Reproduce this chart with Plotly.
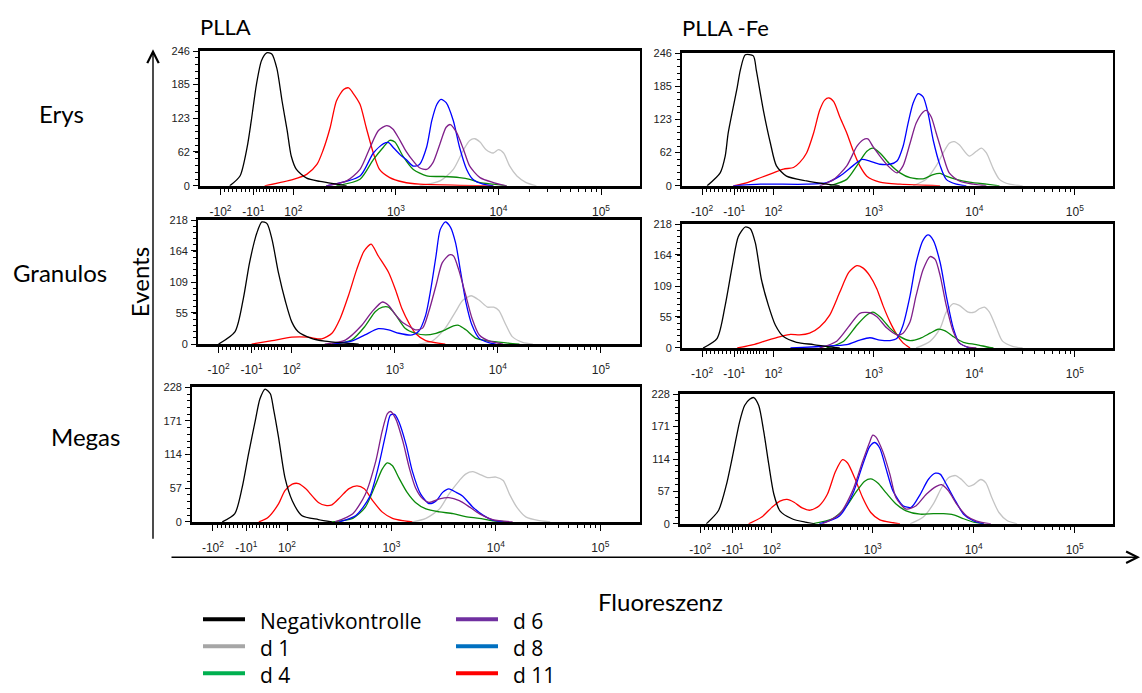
import numpy as np
import plotly.graph_objects as go

# ---------------- data (x in display decades of the biexponential axis, y = events) ----------------
# Erys / PLLA
erys_plla_neg_u = [1.38,1.48,1.55,1.59,1.64,1.69,1.74,1.79,1.84,1.89,1.94,1.98,2.03,2.13,2.26,2.42,2.52]
erys_plla_neg_y = [0,18,71,119,185,229,243,241,214,155,101,54,30,14,8,3,0]
erys_plla_d1_u = [3.23,3.43,3.56,3.66,3.72,3.77,3.82,3.88,3.95,4.00,4.05,4.11,4.18,4.27,4.37]
erys_plla_d1_y = [0,9,30,66,83,86,80,66,60,66,60,36,18,6,0]
erys_plla_d4_u = [2.42,2.65,2.78,2.88,2.94,2.99,3.07,3.17,3.30,3.46,3.62,3.72,3.82,3.95,4.08]
erys_plla_d4_y = [0,12,48,71,83,80,54,30,18,17,15,12,6,3,0]
erys_plla_d6_u = [2.32,2.52,2.65,2.75,2.83,2.91,2.97,3.04,3.10,3.17,3.23,3.30,3.36,3.43,3.49,3.53,3.59,3.66,3.72,3.82,3.95,4.08]
erys_plla_d6_y = [0,9,30,71,101,110,104,83,63,45,33,30,42,77,107,112,98,66,36,15,6,0]
erys_plla_d8_u = [2.32,2.65,2.78,2.88,2.93,2.97,3.04,3.10,3.17,3.23,3.30,3.35,3.40,3.44,3.49,3.56,3.62,3.69,3.75,3.85,3.95]
erys_plla_d8_y = [0,18,60,77,79,71,57,48,36,39,71,119,149,158,152,119,71,30,12,3,0]
erys_plla_d11_u = [1.72,2.00,2.13,2.23,2.29,2.36,2.42,2.49,2.54,2.58,2.65,2.71,2.78,2.84,2.94,3.07,3.23,3.62,3.95]
erys_plla_d11_y = [0,12,21,39,65,107,155,176,179,170,149,107,60,30,15,7,3,1,0]

# Erys / PLLA-Fe
erys_fe_neg_u = [1.34,1.47,1.52,1.55,1.64,1.67,1.72,1.80,1.83,1.90,1.97,2.03,2.13,2.33,2.53,2.66]
erys_fe_neg_y = [0,24,55,98,183,214,243,241,214,140,79,37,18,9,3,0]
erys_fe_d1_u = [3.39,3.52,3.62,3.69,3.75,3.80,3.85,3.95,4.02,4.07,4.12,4.19,4.25,4.35,4.48]
erys_fe_d1_y = [0,12,37,61,79,82,76,55,64,70,61,31,12,3,0]
erys_fe_d4_u = [2.56,2.73,2.83,2.93,2.99,3.06,3.16,3.26,3.36,3.49,3.59,3.66,3.72,3.82,3.95,4.12,4.25]
erys_fe_d4_y = [0,12,37,64,70,61,40,24,15,13,21,23,18,12,7,3,0]
erys_fe_d6_u = [2.46,2.60,2.73,2.83,2.89,2.94,2.99,3.06,3.14,3.23,3.29,3.36,3.42,3.49,3.52,3.57,3.62,3.69,3.75,3.85,3.99,4.12]
erys_fe_d6_y = [0,12,37,73,85,87,73,55,37,24,37,79,116,137,140,128,98,55,24,9,3,0]
erys_fe_d8_u = [1.60,1.87,2.33,2.53,2.66,2.79,2.88,2.96,3.06,3.16,3.23,3.29,3.34,3.39,3.44,3.49,3.54,3.59,3.66,3.72,3.82,3.92]
erys_fe_d8_y = [0,3,3,6,18,37,49,46,40,40,46,73,116,153,171,165,134,85,37,12,3,0]
erys_fe_d11_u = [1.60,1.74,1.87,2.00,2.10,2.20,2.26,2.33,2.40,2.46,2.51,2.55,2.60,2.66,2.73,2.79,2.86,2.93,3.06,3.26,3.66]
erys_fe_d11_y = [0,6,15,24,31,34,43,61,98,140,159,163,156,128,98,67,37,18,7,3,0]

# Granulos / PLLA
gran_plla_neg_u = [1.29,1.45,1.53,1.59,1.66,1.71,1.76,1.81,1.87,1.94,2.00,2.06,2.19,2.32,2.49,2.65]
gran_plla_neg_y = [0,22,80,143,195,215,212,183,126,74,39,22,10,5,2,0]
gran_plla_d1_u = [3.23,3.36,3.49,3.59,3.66,3.74,3.82,3.90,3.96,4.01,4.08,4.14,4.24,4.34]
gran_plla_d1_y = [0,5,28,57,77,85,77,65,65,59,33,13,3,0]
gran_plla_d4_u = [2.39,2.58,2.71,2.81,2.88,2.94,3.01,3.10,3.20,3.30,3.40,3.49,3.57,3.62,3.69,3.79,3.92,4.08,4.21]
gran_plla_d4_y = [0,7,31,57,65,65,51,28,19,16,19,25,32,33,25,10,5,2,0]
gran_plla_d6_u = [2.32,2.52,2.68,2.78,2.88,2.94,3.01,3.07,3.14,3.20,3.27,3.33,3.40,3.46,3.53,3.57,3.62,3.69,3.75,3.82,3.92,4.05]
gran_plla_d6_y = [0,7,33,57,74,68,51,39,31,25,28,57,103,143,157,155,131,85,45,16,5,0]
gran_plla_d8_u = [2.39,2.58,2.71,2.84,2.94,3.04,3.17,3.23,3.30,3.35,3.40,3.44,3.49,3.54,3.59,3.64,3.69,3.75,3.82,3.92,3.98]
gran_plla_d8_y = [0,5,16,27,25,19,16,22,51,97,155,201,215,206,178,126,74,33,10,2,0]
gran_plla_d11_u = [1.61,1.81,2.00,2.16,2.29,2.39,2.47,2.55,2.63,2.70,2.77,2.84,2.94,3.01,3.07,3.14,3.20,3.30,3.49]
gran_plla_d11_y = [0,6,12,12,9,19,45,85,131,163,176,155,126,94,62,36,19,6,0]

# Granulos / PLLA-Fe
gran_fe_neg_u = [1.30,1.44,1.52,1.59,1.65,1.72,1.77,1.82,1.88,1.95,2.02,2.10,2.23,2.40,2.60,2.66]
gran_fe_neg_y = [0,17,75,144,196,213,210,185,121,75,40,20,10,6,1,0]
gran_fe_d1_u = [3.42,3.56,3.66,3.72,3.79,3.85,3.94,4.00,4.05,4.10,4.15,4.22,4.28,4.38,4.48]
gran_fe_d1_y = [0,12,35,63,78,75,63,63,69,72,63,35,12,3,0]
gran_fe_d4_u = [2.53,2.70,2.83,2.93,2.99,3.06,3.16,3.26,3.36,3.46,3.56,3.64,3.71,3.79,3.89,4.02,4.15,4.19]
gran_fe_d4_y = [0,12,40,58,63,55,35,20,13,17,26,33,30,20,10,6,1,0]
gran_fe_d6_u = [2.46,2.63,2.76,2.86,2.96,3.03,3.13,3.23,3.29,3.36,3.42,3.49,3.56,3.61,3.66,3.72,3.79,3.85,3.95,4.02]
gran_fe_d6_y = [0,12,40,61,62,55,35,23,26,46,92,138,161,156,127,75,29,9,1,0]
gran_fe_d8_u = [2.17,2.50,2.73,2.86,2.96,3.06,3.16,3.23,3.29,3.36,3.42,3.49,3.54,3.59,3.66,3.72,3.79,3.85,3.95]
gran_fe_d8_y = [0,3,6,14,18,14,13,17,40,92,150,190,199,190,150,92,35,9,0]
gran_fe_d11_u = [1.64,1.80,1.93,2.07,2.17,2.26,2.36,2.46,2.56,2.66,2.75,2.83,2.89,2.96,3.03,3.09,3.16,3.23,3.29,3.36]
gran_fe_d11_y = [0,6,13,20,24,23,26,37,58,98,133,145,141,127,104,75,46,23,9,0]

# Megas / PLLA
meg_plla_neg_u = [1.38,1.50,1.57,1.63,1.70,1.74,1.79,1.84,1.87,1.92,1.98,2.05,2.14,2.30,2.43]
meg_plla_neg_y = [0,14,58,114,175,208,225,217,192,142,75,36,11,4,0]
meg_plla_d1_u = [3.20,3.33,3.46,3.55,3.65,3.71,3.78,3.84,3.92,4.00,4.07,4.13,4.20,4.29,4.42,4.52]
meg_plla_d1_y = [0,6,22,47,70,81,85,81,75,76,70,47,25,8,2,0]
meg_plla_d4_u = [2.43,2.63,2.75,2.85,2.91,2.96,3.01,3.07,3.15,3.23,3.33,3.46,3.59,3.71,3.84,3.97,4.10]
meg_plla_d4_y = [0,6,25,64,89,100,95,75,50,33,22,17,14,9,6,2,0]
meg_plla_d6_u = [2.46,2.63,2.75,2.85,2.91,2.96,2.99,3.04,3.11,3.17,3.23,3.30,3.36,3.46,3.55,3.65,3.75,3.84,3.97,4.16]
meg_plla_d6_y = [0,14,47,103,153,183,187,175,136,92,58,39,33,39,41,36,25,14,4,0]
meg_plla_d8_u = [2.50,2.66,2.79,2.88,2.95,2.99,3.03,3.07,3.14,3.20,3.28,3.36,3.43,3.49,3.55,3.62,3.68,3.78,3.88,3.97,4.07]
meg_plla_d8_y = [0,11,42,97,153,181,182,170,131,86,47,31,36,50,56,50,44,25,11,3,0]
meg_plla_d11_u = [1.73,1.82,1.92,1.98,2.05,2.11,2.18,2.24,2.30,2.37,2.43,2.51,2.59,2.67,2.74,2.82,2.91,3.01,3.11,3.20]
meg_plla_d11_y = [0,8,31,53,64,65,56,44,33,28,29,42,56,61,56,36,17,6,2,0]

# Megas / PLLA-Fe
meg_fe_neg_u = [1.35,1.47,1.55,1.62,1.68,1.73,1.78,1.82,1.87,1.92,1.97,2.02,2.08,2.20,2.33,2.43]
meg_fe_neg_y = [0,23,69,127,179,208,219,222,208,162,104,52,23,9,3,0]
meg_fe_d1_u = [3.37,3.50,3.60,3.68,3.75,3.82,3.88,3.95,4.00,4.07,4.12,4.18,4.25,4.33,4.43]
meg_fe_d1_y = [0,12,35,63,81,85,78,66,69,78,72,46,20,6,0]
meg_fe_d4_u = [2.40,2.60,2.73,2.83,2.92,2.98,3.05,3.13,3.23,3.33,3.47,3.60,3.70,3.80,3.90,4.00,4.10]
meg_fe_d4_y = [0,9,29,55,75,79,72,55,35,23,17,18,18,16,9,3,0]
meg_fe_d6_u = [2.50,2.67,2.80,2.90,2.97,3.00,3.03,3.10,3.17,3.23,3.33,3.43,3.53,3.63,3.68,3.75,3.83,3.93,4.03,4.17]
meg_fe_d6_y = [0,17,58,110,144,156,153,127,87,46,26,32,52,66,69,58,35,14,5,0]
meg_fe_d8_u = [2.47,2.67,2.80,2.90,2.97,3.02,3.07,3.13,3.20,3.30,3.38,3.47,3.55,3.62,3.67,3.73,3.82,3.90,4.00,4.10]
meg_fe_d8_y = [0,14,52,104,136,143,133,98,58,32,29,52,78,89,87,69,40,17,5,0]
meg_fe_d11_u = [1.77,1.90,2.00,2.08,2.15,2.22,2.30,2.38,2.47,2.55,2.63,2.70,2.75,2.82,2.90,2.98,3.07,3.20,3.27]
meg_fe_d11_y = [0,12,29,40,43,38,28,24,32,52,92,113,107,81,46,20,7,2,0]

# axis ticks
x_tick_u = [1.29, 1.61, 2, 3, 4, 5]
x_tick_text = ["-10<sup>2</sup>", "-10<sup>1</sup>", "10<sup>2</sup>", "10<sup>3</sup>", "10<sup>4</sup>", "10<sup>5</sup>"]
y_ticks_erys = [0, 62, 123, 185, 246]
y_ticks_gran = [0, 55, 109, 164, 218]
y_ticks_meg = [0, 57, 114, 171, 228]

series_keys = ["d1", "d11", "d4", "d8", "d6", "neg"]
legend_names = ["Negativkontrolle", "d 1", "d 4", "d 6", "d 8", "d 11"]
legend_keys = ["neg", "d1", "d4", "d6", "d8", "d11"]
curve_colors = {"neg": "#000000", "d1": "#c4c4c4", "d4": "#0a8a0a", "d6": "#7f1f8a",
                "d8": "#0000ff", "d11": "#ff0000"}
legend_colors = {"neg": "#000000", "d1": "#a6a6a6", "d4": "#00b050", "d6": "#7030a0",
                 "d8": "#0070c0", "d11": "#ff0000"}

W, H = 1142, 693
# panel boxes in pixels: (prefix, left, right, top, bottom, yticks)
panels = [
    ("erys_plla", 200, 640, 46, 183, y_ticks_erys),
    ("erys_fe", 682, 1113, 48, 183, y_ticks_erys),
    ("gran_plla", 198, 640, 218, 344, y_ticks_gran),
    ("gran_fe", 682, 1113, 222, 348, y_ticks_gran),
    ("meg_plla", 192, 640, 388, 525, y_ticks_meg),
    ("meg_fe", 680, 1113, 395, 527, y_ticks_meg),
]
U_RANGE = [1.09, 5.38]

g = globals()
fig = go.Figure()

# minor ticks (styling)
x_minor = []
x_minor += list(np.linspace(1.29, 1.61, 9))
x_minor += list(np.linspace(1.61, 1.93, 11))
for d in (2, 3, 4):
    x_minor += [d + np.log10(k) for k in range(2, 10)]
x_minor = [float(v) for v in x_minor]

tickfont = dict(family="Liberation Sans, Arial, sans-serif", size=11, color="#222222")

for i, (pre, l, r, t, b, yt) in enumerate(panels, start=1):
    xa = "x" if i == 1 else f"x{i}"
    ya = "y" if i == 1 else f"y{i}"
    for key in series_keys:
        fig.add_trace(go.Scatter(
            x=g[f"{pre}_{key}_u"], y=g[f"{pre}_{key}_y"], mode="lines",
            name=legend_names[legend_keys.index(key)],
            line=dict(color=curve_colors[key], width=1.3, shape="spline", smoothing=0.7),
            xaxis=xa, yaxis=ya, showlegend=False, hoverinfo="skip"))
    ymax = yt[-1]
    y_minor = [float(v) for v in np.linspace(0, ymax, 21)]
    xkey = "xaxis" if i == 1 else f"xaxis{i}"
    ykey = "yaxis" if i == 1 else f"yaxis{i}"
    fig.update_layout(**{
        xkey: dict(domain=[l / W, r / W], anchor=ya, range=U_RANGE,
                   tickmode="array", tickvals=x_tick_u, ticktext=x_tick_text,
                   ticks="outside", ticklen=6, tickwidth=1.2, tickcolor="#000",
                   minor=dict(tickmode="array", tickvals=x_minor, ticks="outside", ticklen=3,
                              tickwidth=1, tickcolor="#000"),
                   ticklabelstandoff=7,
                   showline=True, linecolor="#000", linewidth=2.5, mirror=True,
                   showgrid=False, zeroline=False, tickfont=dict(tickfont, size=12)),
        ykey: dict(domain=[1 - b / H, 1 - t / H], anchor=xa, range=[0, ymax],
                   tickmode="array", tickvals=yt, ticks="outside", ticklen=5, tickwidth=1.2,
                   tickcolor="#000",
                   minor=dict(tickmode="array", tickvals=y_minor, ticks="outside", ticklen=3,
                              tickwidth=1, tickcolor="#000"),
                   showline=True, linecolor="#000", linewidth=1.8, mirror=True,
                   showgrid=False, zeroline=False, tickfont=tickfont, ticklabelstandoff=1),
    })

fig.update_layout(
    width=W, height=H, margin=dict(l=0, r=0, t=0, b=0),
    paper_bgcolor="white", plot_bgcolor="white", showlegend=False,
)

# legend (two columns, three rows) drawn as key lines + text
legfont = dict(family="Open Sans, Lato, sans-serif", size=21, color="#000")
leg_cols = [(203, 245, 258), (456, 498, 511)]
leg_rows = [624, 651.5, 679]
for n, key in enumerate(legend_keys):
    c = n // 3
    rr = n % 3
    x0, x1, xt = leg_cols[c]
    yl = leg_rows[rr]
    fig.add_shape(type="line", xref="paper", yref="paper", x0=x0 / W, x1=x1 / W,
                  y0=1 - yl / H, y1=1 - yl / H,
                  line=dict(color=legend_colors[key], width=4))
    fig.add_annotation(xref="paper", yref="paper", x=xt / W, y=1 - (yl + 2) / H,
                       xanchor="left", yanchor="middle", showarrow=False,
                       text=legend_names[n], font=legfont)

labfont = dict(family="Lato, Open Sans, sans-serif", size=24, color="#000")
titlefont = dict(family="Lato, Open Sans, sans-serif", size=22, color="#000")
ann = [
    dict(text="PLLA", x=198 / W, y=1 - 21 / H, xanchor="left", yanchor="middle", font=titlefont),
    dict(text="PLLA -Fe", x=680 / W, y=1 - 22 / H, xanchor="left", yanchor="middle", font=titlefont),
    dict(text="Erys", x=61 / W, y=1 - 109 / H, xanchor="center", yanchor="middle", font=labfont),
    dict(text="Granulos", x=60 / W, y=1 - 271 / H, xanchor="center", yanchor="middle", font=labfont),
    dict(text="Megas", x=85 / W, y=1 - 438 / H, xanchor="center", yanchor="middle", font=labfont),
    dict(text="Events", x=139 / W, y=1 - 281 / H, xanchor="center", yanchor="middle",
         textangle=-90, font=labfont),
    dict(text="Fluoreszenz", x=660 / W, y=1 - 606 / H, xanchor="center", yanchor="middle",
         font=labfont),
]
for a in ann:
    fig.add_annotation(xref="paper", yref="paper", showarrow=False, **a)

# axis arrows
fig.add_annotation(xref="paper", yref="paper", x=153 / W, y=1 - 44 / H, ax=0, ay=535 - 44,
                   axref="pixel", ayref="pixel", showarrow=True, arrowhead=5, arrowsize=1.6,
                   arrowwidth=1.4, arrowcolor="#000", text="")
fig.add_annotation(xref="paper", yref="paper", x=1140 / W, y=1 - 561 / H, ax=-(1140 - 170), ay=0,
                   axref="pixel", ayref="pixel", showarrow=True, arrowhead=5, arrowsize=1.6,
                   arrowwidth=1.4, arrowcolor="#000", text="")

fig.write_html("out.html")
